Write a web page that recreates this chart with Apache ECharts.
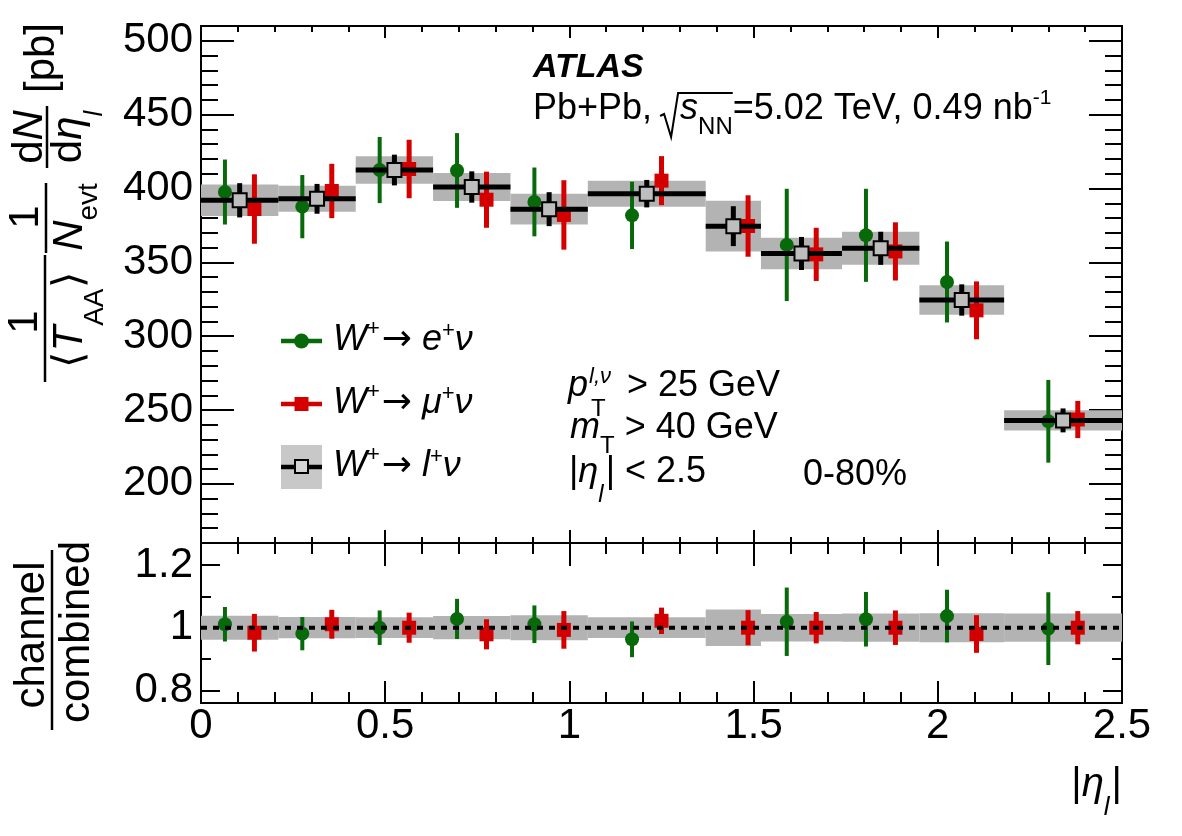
<!DOCTYPE html>
<html>
<head>
<meta charset="utf-8">
<script src="https://cdn.jsdelivr.net/npm/echarts@6/dist/echarts.min.js"></script>
<style>html,body{margin:0;padding:0;background:#fff}#main{width:1182px;height:836px}</style>
</head>
<body>
<div id="main"></div>
<script>
// eta bins
var binEdges = [0, 0.21, 0.42, 0.63, 0.84, 1.05, 1.37, 1.52, 1.74, 1.95, 2.18, 2.5];
// combined W+ -> l+ nu
var combVal  = [392, 393, 412.5, 401, 386, 396.5, 374.5, 356, 359.5, 324.5, 243];
var combStat = [11.6, 10.1, 10.4, 10.6, 11.5, 9.3, 13.5, 11.2, 11.2, 10.6, 8.1];
var combSyst = [10.7, 8.8, 9.3, 9.5, 10.4, 8.8, 17.2, 10.7, 11.2, 10, 6.8];
// electron channel (no point in the crack bin)
var elVal = [397.6, 387.7, 412.5, 412.2, 390.9, 381.8, null, 361.8, 368.3, 336.7, 242.4];
var elErr = [22, 21.4, 22.4, 25.3, 23.3, 22.8, null, 38, 31.5, 27.4, 28];
// muon channel
var muVal = [386.1, 398.3, 413.2, 392.4, 382.1, 405.3, 374.6, 355.4, 357.4, 317.5, 243.6];
var muErr = [23.5, 18.4, 19.8, 19, 23.5, 16.6, 20.8, 18, 19.7, 19.6, 12.6];
// ratio panel
var ratioBand  = [0.038, 0.034, 0.033, 0.037, 0.040, 0.033, 0.058, 0.044, 0.045, 0.046, 0.045];
var elRatio    = [1.011, 0.981, 1.0, 1.028, 1.011, 0.963, null, 1.019, 1.027, 1.037, 0.997];
var elRatioErr = [0.055, 0.053, 0.055, 0.064, 0.06, 0.057, null, 0.109, 0.087, 0.084, 0.116];
var muRatio    = [0.984, 1.011, 1.0, 0.979, 0.993, 1.022, 1.0, 1.0, 1.0, 0.98, 1.0];
var muRatioErr = [0.06, 0.046, 0.048, 0.048, 0.06, 0.042, 0.056, 0.05, 0.055, 0.06, 0.053];

var GREEN = '#07690a', RED = '#d40000', BAND = '#b3b3b3';
var FONT = '"Liberation Sans", Arial, Helvetica, sans-serif';
var SHIFT = 0.04;

var bandData = [], lineData = [], statData = [], combPts = [];
var elBars = [], elPts = [], muBars = [], muPts = [];
var rBand = [], rElBars = [], rElPts = [], rMuBars = [], rMuPts = [];
for (var i = 0; i < combVal.length; i++) {
    var lo = binEdges[i], hi = binEdges[i + 1], c = (lo + hi) / 2;
    bandData.push([lo, hi, combVal[i], combSyst[i]]);
    lineData.push([lo, hi, combVal[i]]);
    statData.push([c, combVal[i], combStat[i]]);
    combPts.push([c, combVal[i]]);
    rBand.push([lo, hi, 1, ratioBand[i]]);
    if (elVal[i] != null) {
        elBars.push([c - SHIFT, elVal[i], elErr[i]]);
        elPts.push([c - SHIFT, elVal[i]]);
        rElBars.push([c - SHIFT, elRatio[i], elRatioErr[i]]);
        rElPts.push([c - SHIFT, elRatio[i]]);
    }
    muBars.push([c + SHIFT, muVal[i], muErr[i]]);
    muPts.push([c + SHIFT, muVal[i]]);
    rMuBars.push([c + SHIFT, muRatio[i], muRatioErr[i]]);
    rMuPts.push([c + SHIFT, muRatio[i]]);
}

function bandItem(color) {
    return function (params, api) {
        var a = api.coord([api.value(0), api.value(2) + api.value(3)]);
        var b = api.coord([api.value(1), api.value(2) - api.value(3)]);
        return {type: 'rect', shape: {x: a[0], y: a[1], width: b[0] - a[0], height: b[1] - a[1]}, style: {fill: color}};
    };
}
function hLineItem(params, api) {
    var a = api.coord([api.value(0), api.value(2)]);
    var b = api.coord([api.value(1), api.value(2)]);
    return {type: 'rect', shape: {x: a[0], y: a[1] - 2.5, width: b[0] - a[0], height: 5}, style: {fill: '#000'}};
}
function errItem(color, w) {
    return function (params, api) {
        var a = api.coord([api.value(0), api.value(1) + api.value(2)]);
        var b = api.coord([api.value(0), api.value(1) - api.value(2)]);
        return {type: 'rect', shape: {x: a[0] - w / 2, y: a[1], width: w, height: b[1] - a[1]}, style: {fill: color}};
    };
}
function custom(data, fn, xi, z) {
    return {type: 'custom', xAxisIndex: xi, yAxisIndex: xi === 0 ? 0 : 2, data: data, renderItem: fn, z: z, silent: true};
}
function pts(data, xi, symbol, color, z, border) {
    return {type: 'scatter', xAxisIndex: xi, yAxisIndex: xi === 0 ? 0 : 2, data: data, symbol: symbol, symbolSize: 14, z: z,
        itemStyle: {color: color, borderColor: border ? '#000' : color, borderWidth: border ? 2 : 0, opacity: 1}, silent: true};
}

function xAx(gi, pos, len, mlen, labels) {
    return {type: 'value', gridIndex: gi, position: pos, min: 0, max: 2.5, interval: 0.5,
        axisLine: {show: true, onZero: false, lineStyle: {color: '#000', width: 2}},
        axisTick: {show: true, inside: true, length: len, lineStyle: {color: '#000', width: 2}},
        minorTick: {show: true, splitNumber: 5, length: mlen, lineStyle: {color: '#000', width: 2}},
        splitLine: {show: false}, minorSplitLine: {show: false},
        axisLabel: {show: labels, fontSize: 42, fontFamily: FONT, color: '#000', margin: 2}};
}
function yAx(gi, pos, ext, split, minor, len, mlen, labels) {
    return {type: 'value', gridIndex: gi, position: pos, min: ext[0], max: ext[1], splitNumber: split,
        axisLine: {show: true, onZero: false, lineStyle: {color: '#000', width: 2}},
        axisTick: {show: true, inside: true, length: len, lineStyle: {color: '#000', width: 2}},
        minorTick: {show: true, splitNumber: minor, length: mlen, lineStyle: {color: '#000', width: 2}},
        splitLine: {show: false}, minorSplitLine: {show: false},
        axisLabel: {show: labels, fontSize: 42, fontFamily: FONT, color: '#000', margin: 8, showMinLabel: false, showMaxLabel: false}};
}

// text layout helper: sequences of differently styled pieces on one baseline
var ctx = document.createElement('canvas').getContext('2d');
function fnt(s) { return (s.it ? 'italic ' : '') + (s.bd ? 'bold ' : '') + s.fs + 'px ' + (s.ff || FONT); }
function T(t, fs, o) { o = o || {}; o.t = t; o.fs = fs; return o; }
function seq(x, base, segs, align) {
    var w = 0;
    segs.forEach(function (s) { ctx.font = fnt(s); s.w = ctx.measureText(s.t).width; w += s.w + (s.gap || 0); });
    if (align === 'right') x -= w;
    else if (align === 'center') x -= w / 2;
    var els = [], xs = [];
    segs.forEach(function (s) {
        x += s.gap || 0;
        xs.push(x);
        els.push({type: 'text', x: x, y: base + (s.dy || 0) - 0.35 * s.fs, silent: true,
            style: {text: s.t, font: fnt(s), fill: '#000', align: 'left', verticalAlign: 'middle', textAlign: 'left', textVerticalAlign: 'middle'}});
        x += s.w;
    });
    return {els: els, xs: xs, end: x};
}
function line(x1, y1, x2, y2, w, color) {
    return {type: 'line', silent: true, shape: {x1: x1, y1: y1, x2: x2, y2: y2}, style: {stroke: color || '#000', lineWidth: w}};
}

var g = [];
function add(r) { g = g.concat(r.els); return r; }

// ATLAS label
add(seq(533, 80, [T('ATLAS', 34, {it: 1, bd: 1})]));
var l2 = add(seq(533, 122, [T('Pb+Pb, ', 36), T('s', 36, {it: 1, gap: 18}), T('NN', 24, {dy: 14}), T('=5.02 TeV, 0.49 nb', 36), T('-1', 21, {dy: -16})]));
var sx = l2.xs[1];
g.push({type: 'polyline', silent: true, shape: {points: [[sx - 20, 116], [sx - 16, 114], [sx - 9, 137], [sx - 2, 93], [l2.xs[3], 93]]},
    style: {stroke: '#000', lineWidth: 2, fill: null}});

// legend
var LX = 281, LW = 41;
g.push(line(LX, 341, LX + LW, 341, 4.5, GREEN));
g.push({type: 'circle', silent: true, shape: {cx: LX + 20.5, cy: 341, r: 7.5}, style: {fill: GREEN}});
g.push(line(LX, 404, LX + LW, 404, 4.5, RED));
g.push({type: 'rect', silent: true, shape: {x: LX + 13.5, y: 397, width: 14, height: 14}, style: {fill: RED}});
g.push({type: 'rect', silent: true, shape: {x: LX, y: 445, width: LW, height: 44}, style: {fill: '#c8c8c8'}});
g.push(line(LX, 467, LX + LW, 467, 4.5, '#000'));
g.push({type: 'rect', silent: true, shape: {x: LX + 14, y: 460, width: 13, height: 13}, style: {fill: '#d4d4d4', stroke: '#000', lineWidth: 2}});
function legText(base, lep) {
    add(seq(333, base, [T('W', 36, {it: 1}), T('+', 22, {dy: -16}),
        T('\u2192', 36, {ff: '"DejaVu Sans", sans-serif', gap: 2}), T(' ' + lep, 36, {it: 1}), T('+', 22, {dy: -14}), T('\u03bd', 36, {it: 1})]));
}
legText(353, 'e');
legText(416, '\u03bc');
legText(479, 'l');

// selection cuts
var p1 = add(seq(568, 399, [T('p', 36, {it: 1})]));
add(seq(p1.end + 1, 385, [T('l,\u03bd', 22, {it: 1})]));
add(seq(p1.end + 3, 418, [T('T', 24)]));
add(seq(627, 399, [T('> 25 GeV', 36)]));
add(seq(570, 441, [T('m', 36, {it: 1}), T('T', 24, {dy: 14}), T(' > 40 GeV', 36)]));
add(seq(569, 485, [T('|', 36), T('\u03b7', 36, {it: 1}), T('l', 24, {it: 1, dy: 19}), T('|', 36, {gap: 2}), T(' < 2.5', 36)]));
add(seq(803, 488, [T('0-80%', 36)]));

// x axis title
add(seq(1122, 799, [T('|', 40), T('\u03b7', 40, {it: 1}), T('l', 26, {it: 1, dy: 18}), T('|', 40, {gap: 2})], 'right'));

// rotated y titles: local (u, v) -> screen (v, 836 - u)
var yt = [];
function addR(r) { yt = yt.concat(r.els); }
addR(seq(514, 40, [T('1', 42)], 'center'));
addR(seq(516, 85, [T('\u27e8', 42), T('T', 42, {it: 1}), T('AA', 28, {dy: 20}), T('\u27e9', 42)], 'center'));
yt.push(line(454, 45, 581, 45, 2.5));
addR(seq(619, 41, [T('1', 42)], 'center'));
addR(seq(619, 85, [T('N', 42, {it: 1}), T('evt', 28, {dy: 14})], 'center'));
yt.push(line(583, 46, 653, 46, 2.5));
addR(seq(699, 45, [T('d', 42), T('N', 42, {it: 1})], 'center'));
addR(seq(699, 84, [T('d', 42), T('\u03b7', 42, {it: 1}), T('l', 26, {it: 1, dy: 20})], 'center'));
yt.push(line(668, 47, 730, 47, 2.5));
addR(seq(778, 57, [T('[pb]', 42)], 'center'));
g.push({type: 'group', x: 0, y: 836, rotation: Math.PI / 2, children: yt});

var rt = [];
rt = rt.concat(seq(201, 47, [T('channel', 42)], 'center').els);
rt = rt.concat(seq(204, 92, [T('combined', 42)], 'center').els);
rt.push(line(106, 52, 286, 52, 2.5));
g.push({type: 'group', x: 0, y: 836, rotation: Math.PI / 2, children: rt});

var myChart = echarts.init(document.getElementById('main'), null, {renderer: 'canvas'});
var option = {
    animation: false,
    backgroundColor: '#fff',
    grid: [
        {left: 201, top: 26, width: 921, height: 517, show: true, borderColor: '#000', borderWidth: 2, backgroundColor: 'transparent'},
        {left: 201, top: 543, width: 921, height: 160, show: true, borderColor: '#000', borderWidth: 2, backgroundColor: 'transparent'}
    ],
    xAxis: [
        xAx(0, 'bottom', 13, 6, false),
        xAx(0, 'top', 12, 6, false),
        xAx(1, 'bottom', 22, 11, true),
        xAx(1, 'top', 23, 11, false)
    ],
    yAxis: [
        yAx(0, 'left', [160, 510], 7, 5, 33, 17, true),
        yAx(0, 'right', [160, 510], 7, 5, 33, 17, false),
        yAx(1, 'left', [0.76, 1.27], 3, 2, 19, 10, true),
        yAx(1, 'right', [0.76, 1.27], 3, 2, 19, 10, false)
    ],
    series: [
        custom(bandData, bandItem(BAND), 0, 1),
        custom(elBars, errItem(GREEN, 4), 0, 2),
        pts(elPts, 0, 'circle', GREEN, 3),
        custom(muBars, errItem(RED, 5), 0, 4),
        pts(muPts, 0, 'rect', RED, 5),
        custom(lineData, hLineItem, 0, 6),
        custom(statData, errItem('#000', 5), 0, 7),
        pts(combPts, 0, 'rect', '#bebebe', 8, true),

        custom(rBand, bandItem(BAND), 2, 1),
        custom(rElBars, errItem(GREEN, 4), 2, 2),
        pts(rElPts, 2, 'circle', GREEN, 3),
        custom(rMuBars, errItem(RED, 5), 2, 4),
        pts(rMuPts, 2, 'rect', RED, 5),
        {type: 'line', xAxisIndex: 2, yAxisIndex: 2, data: [[0, 1], [2.5, 1]], symbol: 'none', z: 9, silent: true,
            lineStyle: {color: '#000', width: 4, type: [6, 6]}}
    ],
    graphic: {elements: g}
};
myChart.setOption(option);
window.addEventListener('resize', function () {
    myChart.resize();
});
</script>
</body>
</html>
